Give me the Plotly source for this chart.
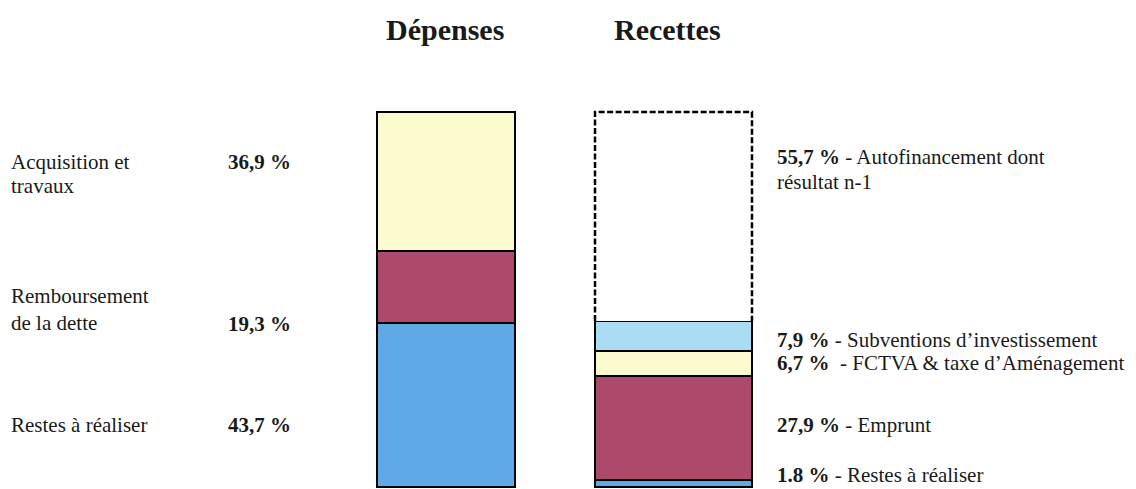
import plotly.graph_objects as go

W, H = 1136, 489

# ---- data ----
dep_names = ["Restes à réaliser", "Remboursement de la dette", "Acquisition et travaux"]
dep_values = [43.7, 19.3, 36.9]
dep_colors = ["#5FAAE6", "#AC4A6B", "#FCFBD0"]

rec_names = ["Restes à réaliser", "Emprunt", "FCTVA & taxe d'Aménagement",
             "Subventions d'investissement", "Autofinancement dont résultat n-1"]
rec_values = [1.8, 27.9, 6.7, 7.9, 55.7]
rec_colors = ["#5FAAE6", "#AC4A6B", "#FCFBD0", "#A8DDF4", "#FFFFFF"]

columns = ["Dépenses", "Recettes"]
col_pos = [0, 1]
col_width = [0.607, 0.69]

FONT = "Liberation Serif, Times New Roman, serif"
TXT = "#1a1a1a"

fig = go.Figure()

# Dépenses stack
for name, v, c in zip(dep_names, dep_values, dep_colors):
    fig.add_trace(go.Bar(x=[col_pos[0]], y=[v], width=[col_width[0]], name=name,
                         marker=dict(color=c, line=dict(color="black", width=2)),
                         showlegend=False, hoverinfo="skip"))

# Recettes stack (last segment drawn without solid outline, dashed outline added below)
for i, (name, v, c) in enumerate(zip(rec_names, rec_values, rec_colors)):
    last = i == len(rec_values) - 1
    fig.add_trace(go.Bar(x=[col_pos[1]], y=[v], width=[col_width[1]], name=name,
                         marker=dict(color=c, line=dict(color="rgba(0,0,0,0)" if last else "black",
                                                        width=0 if last else 2)),
                         showlegend=False, hoverinfo="skip"))

# dashed outline for the autofinancement segment, derived from data
base = sum(rec_values[:-1])
top = base + rec_values[-1]
xl = col_pos[1] - col_width[1] / 2
xr = col_pos[1] + col_width[1] / 2
fig.add_trace(go.Scatter(x=[xl, xl, xr, xr], y=[base, top, top, base], mode="lines",
                         line=dict(color="black", width=2.5, dash="6px,2.5px"),
                         showlegend=False, hoverinfo="skip"))


def P(px, py):
    return px / W, 1 - py / H


def ann(px, py, text, size=21, anchor="left"):
    x, y = P(px, py)
    fig.add_annotation(x=x, y=y, xref="paper", yref="paper", text=text, showarrow=False,
                       xanchor=anchor, yanchor="middle", font=dict(family=FONT, size=size, color=TXT))


# column titles
ann(445, 30, "<b>Dépenses</b>", size=30, anchor="center")
ann(667, 30, "<b>Recettes</b>", size=30, anchor="center")

# left labels
ann(9, 162, "Acquisition et")
ann(9, 186, "travaux")
ann(226, 162, "<b>36,9 %</b>")
ann(9, 296, "Remboursement")
ann(9, 323, "de la dette")
ann(226, 324, "<b>19,3 %</b>")
ann(9, 425, "Restes à réaliser")
ann(226, 425, "<b>43,7 %</b>")

# right labels
ann(775, 157, "<b>55,7 %</b> - Autofinancement dont")
ann(775, 182, "résultat n-1")
ann(775, 340, "<b>7,9 %</b> - Subventions d’investissement")
ann(775, 363, "<b>6,7 %</b>  - FCTVA &amp; taxe d’Aménagement")
ann(775, 425, "<b>27,9 %</b> - Emprunt")
ann(775, 475, "<b>1.8 %</b> - Restes à réaliser")

fig.update_layout(
    width=W, height=H, barmode="stack", bargap=0,
    margin=dict(l=0, r=0, t=0, b=0),
    paper_bgcolor="white", plot_bgcolor="white",
    xaxis=dict(range=[-1.9604, 3.033], visible=False, domain=[0, 1]),
    yaxis=dict(range=[-0.53, 129.87], visible=False, domain=[0, 1]),
)

fig.write_html("out.html")
